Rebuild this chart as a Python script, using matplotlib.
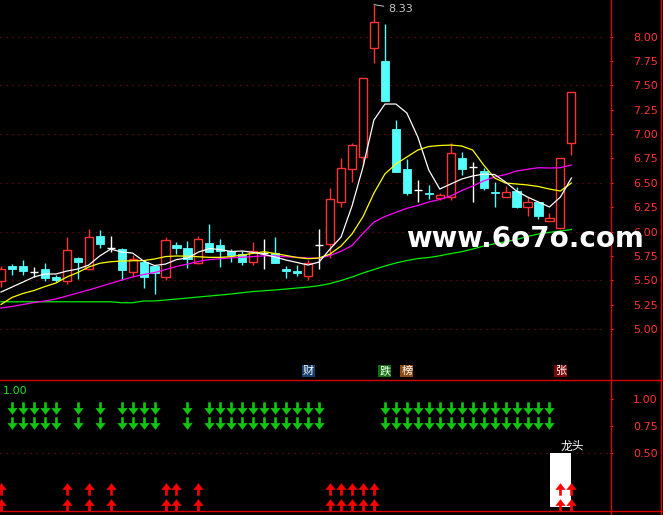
import numpy as np
import matplotlib.pyplot as plt
from matplotlib.lines import Line2D

# daily candles (open, high, low, close)
opens = [5.495, 5.649, 5.646, 5.581, 5.615, 5.533, 5.495, 5.731, 5.612, 5.957,
         5.827, 5.820, 5.587, 5.690, 5.646, 5.536, 5.861, 5.830, 5.673, 5.880,
         5.861, 5.803, 5.766, 5.690, 5.782, 5.782, 5.615, 5.595, 5.543, 5.860,
         5.869, 6.306, 6.638, 6.768, 7.881, 7.750, 7.052, 6.642, 6.426, 6.398,
         6.340, 6.351, 6.751, 6.665, 6.621, 6.405, 6.357, 6.416, 6.248, 6.306,
         6.108, 6.033, 6.906]
highs = [5.645, 5.669, 5.707, 5.632, 5.673, 5.553, 5.947, 5.741, 6.026, 6.015,
         5.954, 5.827, 5.759, 5.707, 5.656, 5.944, 5.889, 5.902, 5.950, 6.077,
         5.923, 5.820, 5.800, 5.895, 5.923, 5.940, 5.646, 5.656, 5.704, 6.026,
         6.444, 6.751, 6.912, 7.573, 8.330, 8.130, 7.145, 6.741, 6.529, 6.478,
         6.398, 6.912, 6.820, 6.710, 6.649, 6.511, 6.467, 6.460, 6.351, 6.306,
         6.193, 6.751, 7.429]
lows = [5.433, 5.553, 5.553, 5.536, 5.495, 5.485, 5.461, 5.509, 5.605, 5.834,
        5.793, 5.502, 5.530, 5.423, 5.358, 5.502, 5.769, 5.628, 5.666, 5.793,
        5.638, 5.690, 5.659, 5.656, 5.615, 5.680, 5.526, 5.543, 5.502, 5.620,
        5.725, 6.255, 6.511, 6.683, 7.727, 7.343, 6.614, 6.375, 6.306, 6.334,
        6.323, 6.323, 6.580, 6.306, 6.426, 6.255, 6.351, 6.238, 6.159, 6.128,
        6.108, 6.030, 6.785]
closes = [5.615, 5.615, 5.598, 5.581, 5.526, 5.505, 5.810, 5.690, 5.940, 5.875,
          5.827, 5.605, 5.718, 5.536, 5.571, 5.910, 5.830, 5.720, 5.920, 5.793,
          5.803, 5.759, 5.690, 5.800, 5.782, 5.680, 5.598, 5.577, 5.680, 5.860,
          6.331, 6.649, 6.888, 7.573, 8.148, 7.343, 6.614, 6.398, 6.426, 6.382,
          6.375, 6.803, 6.642, 6.665, 6.450, 6.392, 6.409, 6.255, 6.306, 6.162,
          6.142, 6.751, 7.429]

# moving average lines
ma_white = [5.379, 5.430, 5.481, 5.533, 5.564, 5.564, 5.594, 5.615, 5.656, 5.749,
            5.820, 5.789, 5.779, 5.697, 5.651, 5.666, 5.712, 5.728, 5.789, 5.825,
            5.815, 5.795, 5.800, 5.786, 5.764, 5.738, 5.707, 5.682, 5.656, 5.687,
            5.820, 5.943, 6.262, 6.662, 7.145, 7.309, 7.309, 7.217, 6.970, 6.631,
            6.436, 6.488, 6.539, 6.570, 6.590, 6.585, 6.508, 6.416, 6.354, 6.303,
            6.252, 6.354, 6.549]
ma_yellow = [5.251, 5.323, 5.364, 5.394, 5.435, 5.471, 5.533, 5.579, 5.636, 5.674,
             5.690, 5.697, 5.700, 5.702, 5.718, 5.743, 5.749, 5.747, 5.741, 5.735,
             5.735, 5.743, 5.759, 5.776, 5.793, 5.774, 5.754, 5.733, 5.721, 5.728,
             5.769, 5.851, 5.975, 6.152, 6.395, 6.591, 6.693, 6.765, 6.837, 6.873,
             6.883, 6.888, 6.878, 6.837, 6.683, 6.549, 6.498, 6.488, 6.478, 6.462,
             6.436, 6.416, 6.498]
ma_magenta = [5.215, 5.230, 5.251, 5.271, 5.287, 5.307, 5.338, 5.369, 5.400, 5.433,
              5.468, 5.502, 5.533, 5.559, 5.579, 5.610, 5.641, 5.666, 5.692, 5.712,
              5.721, 5.730, 5.736, 5.743, 5.751, 5.750, 5.741, 5.736, 5.728, 5.725,
              5.754, 5.797, 5.856, 5.981, 6.097, 6.154, 6.197, 6.238, 6.267, 6.303,
              6.329, 6.365, 6.421, 6.467, 6.519, 6.560, 6.585, 6.621, 6.639, 6.655,
              6.652, 6.655, 6.683]
ma_green = [5.279, 5.279, 5.279, 5.279, 5.279, 5.279, 5.279, 5.279, 5.279, 5.279,
            5.279, 5.269, 5.269, 5.287, 5.287, 5.297, 5.307, 5.317, 5.328, 5.338,
            5.348, 5.359, 5.372, 5.384, 5.392, 5.400, 5.410, 5.420, 5.430, 5.444,
            5.466, 5.497, 5.533, 5.574, 5.610, 5.646, 5.677, 5.702, 5.723, 5.733,
            5.751, 5.774, 5.793, 5.820, 5.851, 5.875, 5.895, 5.918, 5.949, 5.975,
            5.992, 6.005, 6.021]

price_ticks = [5.00, 5.25, 5.50, 5.75, 6.00, 6.25, 6.50, 6.75, 7.00, 7.25, 7.50, 7.75, 8.00]
price_grid = [5.0, 5.5, 6.0, 6.5, 7.0, 7.5, 8.0]

# signal panel
down_idx = [1, 2, 3, 4, 5, 7, 9, 11, 12, 13, 14, 17] + list(range(19, 30)) + list(range(35, 51))
up_idx = [0, 6, 8, 10, 15, 16, 18, 30, 31, 32, 33, 34, 51, 52]
lead_idx = 51
lead_val = 0.5
sig_ticks = [0.50, 0.75, 1.00]

# tags under the candles
tags = [(28, '财', '#17406e'), (35, '跌', '#12700f'), (37, '榜', '#8a4a12'), (51, '张', '#7a0808')]
peak_idx = 34

RED = '#ff3232'
CYAN = '#54fcfc'
FRAME = '#d80000'
GRID = '#9a1010'
CJK = ['Noto Sans CJK SC', 'DejaVu Sans']

n = len(closes)
x = np.arange(n)

fig = plt.figure(figsize=(6.63, 5.15), dpi=100, facecolor='black')
W, H = 663, 515
ax1 = fig.add_axes([0, 1 - 379 / H, 610 / W, 379 / H])
ax2 = fig.add_axes([0, 1 - 510 / H, 610 / W, 130 / H])

for ax in (ax1, ax2):
    ax.set_facecolor('black')
    for s in ax.spines.values():
        s.set_visible(False)
    ax.set_xlim(-0.09, 55.52)
    ax.set_xticks([])
    ax.yaxis.tick_right()
    ax.tick_params(axis='y', colors=RED, length=2.5, width=0.8, pad=14, labelsize=8)

# price panel
ax1.set_ylim(4.486, 8.377)
ax1.set_yticks(price_ticks)
ax1.set_yticklabels(['%.2f' % t for t in price_ticks])
for g in price_grid:
    ax1.axhline(g, xmax=0.993, color=GRID, lw=0.72, ls=(0, (1, 5)), zorder=0)

bw = 0.74
for i in x:
    o, h, l, c = opens[i], highs[i], lows[i], closes[i]
    if c > o:
        col = RED
    elif c < o:
        col = CYAN
    else:
        col = 'white'
    ax1.vlines(i, l, h, color=col, lw=1.0, zorder=2)
    if c == o:
        ax1.hlines(o, i - bw / 2, i + bw / 2, color=col, lw=1.0, zorder=3)
    elif c > o:
        ax1.bar(i, c - o, bottom=o, width=bw, facecolor='black', edgecolor=col, lw=1.0, zorder=3)
    else:
        ax1.bar(i, o - c, bottom=c, width=bw, facecolor=col, edgecolor=col, lw=0.6, zorder=3)

ax1.plot(x, ma_green, color='#00f000', lw=0.9, zorder=4)
ax1.plot(x, ma_magenta, color='#ff00ff', lw=0.9, zorder=4)
ax1.plot(x, ma_yellow, color='#ffff00', lw=0.9, zorder=4)
ax1.plot(x, ma_white, color='white', lw=0.9, zorder=4)

ax1.annotate('%.2f' % highs[peak_idx], xy=(peak_idx, highs[peak_idx]), xytext=(35.28, 8.284),
             color='#c8c8c8', fontsize=8, va='center', ha='left',
             arrowprops=dict(arrowstyle='-', color='#c8c8c8', lw=0.7, shrinkA=1, shrinkB=0))

for i, t, bg in tags:
    ax1.text(i, 4.568, t, family=CJK, fontsize=8, color='white', ha='center', va='center',
             bbox=dict(boxstyle='square,pad=0.08', fc=bg, ec='none'), zorder=5)

# signal panel
ax2.set_ylim(-0.027, 1.181)
ax2.set_yticks(sig_ticks)
ax2.set_yticklabels(['%.2f' % t for t in sig_ticks])
ax2.axhline(0.5, xmax=0.995, color=GRID, lw=0.72, ls=(0, (1, 5)), zorder=0)

ax2.bar(lead_idx, lead_val, width=1.9, color='white', zorder=2)
ax2.text(lead_idx, lead_val + 0.005, '龙头', family=CJK, fontsize=8.5, color='white',
         ha='left', va='bottom', zorder=5)

down_arrow = [(-0.1, 0.5), (0.1, 0.5), (0.1, 0.02), (0.4, 0.02), (0, -0.5),
              (-0.4, 0.02), (-0.1, 0.02), (-0.1, 0.5)]
up_arrow = [(px, -py) for px, py in down_arrow]
for lvl in (0.923, 0.783):
    ax2.plot(down_idx, [lvl] * len(down_idx), ls='none', marker=down_arrow, ms=8.5,
             mfc='#10c810', mec='#10c810', mew=0.3, zorder=3)
for lvl in (0.170, 0.022):
    ax2.plot(up_idx, [lvl] * len(up_idx), ls='none', marker=up_arrow, ms=8.5,
             mfc='#ff0000', mec='#ff0000', mew=0.3, zorder=3)

ax2.text(0.005, 0.955, '1.00', transform=ax2.transAxes, color='#20e020', fontsize=8,
         ha='left', va='top')

# frame lines
def hline(ypx):
    fig.add_artist(Line2D([0, 1], [1 - ypx / H] * 2, color=FRAME, lw=1.0))

def vline(xpx):
    fig.add_artist(Line2D([xpx / W] * 2, [0, 1], color=FRAME, lw=1.0))

hline(379.5)
hline(510.5)
vline(610.5)
vline(660.5)

fig.text(406 / W, 1 - 247 / H, 'www.6o7o.com', fontsize=20, fontweight='bold',
         color='white', ha='left', va='baseline', zorder=10)

plt.savefig('out.png', dpi=100, facecolor='black')
